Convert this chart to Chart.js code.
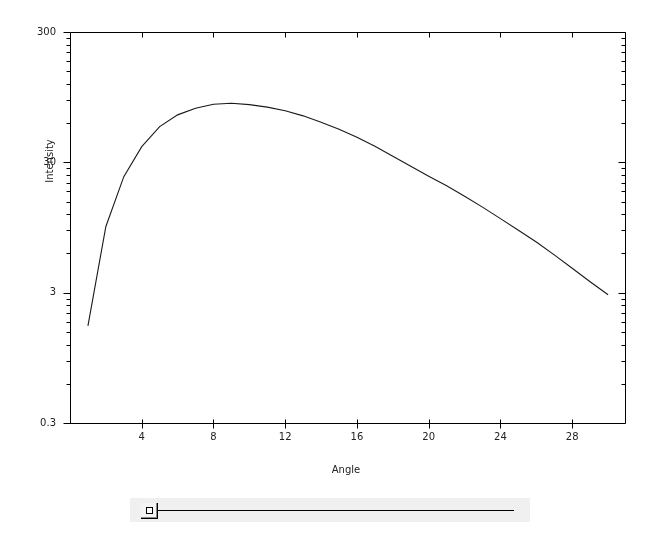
<!DOCTYPE html>
<html>
<head>
<meta charset="utf-8">
<script src="https://cdn.jsdelivr.net/npm/chart.js@4"></script>
<style>
html,body{margin:0;padding:0;background:#fff;}
#wrap{position:relative;width:652px;height:536px;}
#c{position:absolute;left:0;top:0;}
#slider{position:absolute;left:130px;top:498px;width:400px;height:24px;background:#f0f0f0;}
#track{position:absolute;left:28px;top:12px;width:356px;height:1px;background:#000;}
#thumb{position:absolute;left:11px;top:5px;width:16px;height:15px;background:#f4f4f4;border-right:1px solid #000;border-bottom:1px solid #000;box-shadow:inset -1px -1px 0 #888;}
#inner{position:absolute;left:5px;top:4px;width:5px;height:5px;border:1px solid #000;background:#fff;}
</style>
</head>
<body>
<div id="wrap">
<canvas id="c" width="652" height="536"></canvas>
<div id="slider"><div id="track"></div><div id="thumb"><div id="inner"></div></div></div>
</div>
<script>
const angles = [1,2,3,4,5,6,7,8,9,10,11,12,13,14,15,16,17,18,19,20,21,22,23,24,25,26,27,28,29,30];
const intensity = [1.67,9.66,23.3,39.6,56.4,69.4,78.1,83.8,85.3,83.2,79.6,74.6,68.2,61.0,53.9,46.8,39.8,33.4,28.0,23.5,19.8,16.5,13.6,11.1,9.03,7.35,5.85,4.62,3.64,2.89];
const xTicks = [4,8,12,16,20,24,28];
const yTicks = [0.3,3,30,300];
const yMinor = [0.6,0.9,1.2,1.5,1.8,2.1,2.4,2.7,6,9,12,15,18,21,24,27,60,90,120,150,180,210,240,270];
const xLabel = 'Angle';
const yLabel = 'Intensity';

const FONT = 'DejaVu Sans';

const axesPlugin = {
  id: 'axesDraw',
  afterDraw(chart) {
    const {ctx, chartArea: a, scales: {x, y}} = chart;
    const L = Math.round(a.left) + 0.5, R = Math.round(a.right) - 0.5;
    const T = Math.round(a.top) + 0.5, B = Math.round(a.bottom) + 0.5;
    ctx.save();
    ctx.strokeStyle = '#000';
    ctx.lineWidth = 1;
    ctx.beginPath();
    ctx.moveTo(L, T); ctx.lineTo(R, T); ctx.lineTo(R, B);
    ctx.moveTo(L - 6, B); ctx.lineTo(R, B);
    ctx.moveTo(L, T); ctx.lineTo(L, B);
    xTicks.forEach(v => {
      const px = Math.round(x.getPixelForValue(v)) + 0.5;
      ctx.moveTo(px, B - 4); ctx.lineTo(px, B + 5);
      ctx.moveTo(px, T); ctx.lineTo(px, T + 5);
    });
    yTicks.forEach(v => {
      const py = Math.round(y.getPixelForValue(v)) + 0.5;
      ctx.moveTo(L - 7, py); ctx.lineTo(L, py);
      ctx.moveTo(R - 7, py); ctx.lineTo(R, py);
    });
    yMinor.forEach(v => {
      const py = Math.round(y.getPixelForValue(v)) + 0.5;
      ctx.moveTo(L - 4, py); ctx.lineTo(L, py);
      ctx.moveTo(R - 4, py); ctx.lineTo(R, py);
    });
    ctx.stroke();
    ctx.fillStyle = '#222';
    ctx.font = '10px "' + FONT + '"';
    ctx.textAlign = 'center';
    ctx.textBaseline = 'middle';
    ctx.fillText(xLabel, (a.left + a.right) / 2 - 2, 470);
    ctx.translate(50, 161);
    ctx.rotate(-Math.PI / 2);
    ctx.fillText(yLabel, 0, 0);
    ctx.restore();
  }
};

new Chart(document.getElementById('c'), {
  type: 'line',
  data: {
    datasets: [{
      data: angles.map((a, i) => ({x: a, y: intensity[i]})),
      borderColor: '#1a1a1a',
      borderWidth: 1.1,
      pointRadius: 0,
      tension: 0,
      fill: false
    }]
  },
  options: {
    responsive: false,
    animation: false,
    devicePixelRatio: 1,
    layout: {padding: {top: 32, right: 26, left: 0, bottom: 0}},
    plugins: {legend: {display: false}, tooltip: {enabled: false}},
    scales: {
      x: {
        type: 'linear',
        min: 0, max: 31,
        afterBuildTicks: s => { s.ticks = xTicks.map(v => ({value: v})); },
        afterFit: s => { s.height = 113; },
        grid: {display: false, drawTicks: false},
        border: {display: false},
        ticks: {
          autoSkip: false, maxRotation: 0, padding: 8,
          color: '#222', font: {family: FONT, size: 10},
          callback: v => String(v)
        }
      },
      y: {
        type: 'logarithmic',
        min: 0.3, max: 300,
        afterBuildTicks: s => { s.ticks = yTicks.map(v => ({value: v})); },
        afterFit: s => { s.width = 70; },
        grid: {display: false, drawTicks: false},
        border: {display: false},
        ticks: {
          autoSkip: false, padding: 14,
          color: '#222', font: {family: FONT, size: 10},
          callback: v => String(v)
        }
      }
    }
  },
  plugins: [axesPlugin]
});
</script>
</body>
</html>
